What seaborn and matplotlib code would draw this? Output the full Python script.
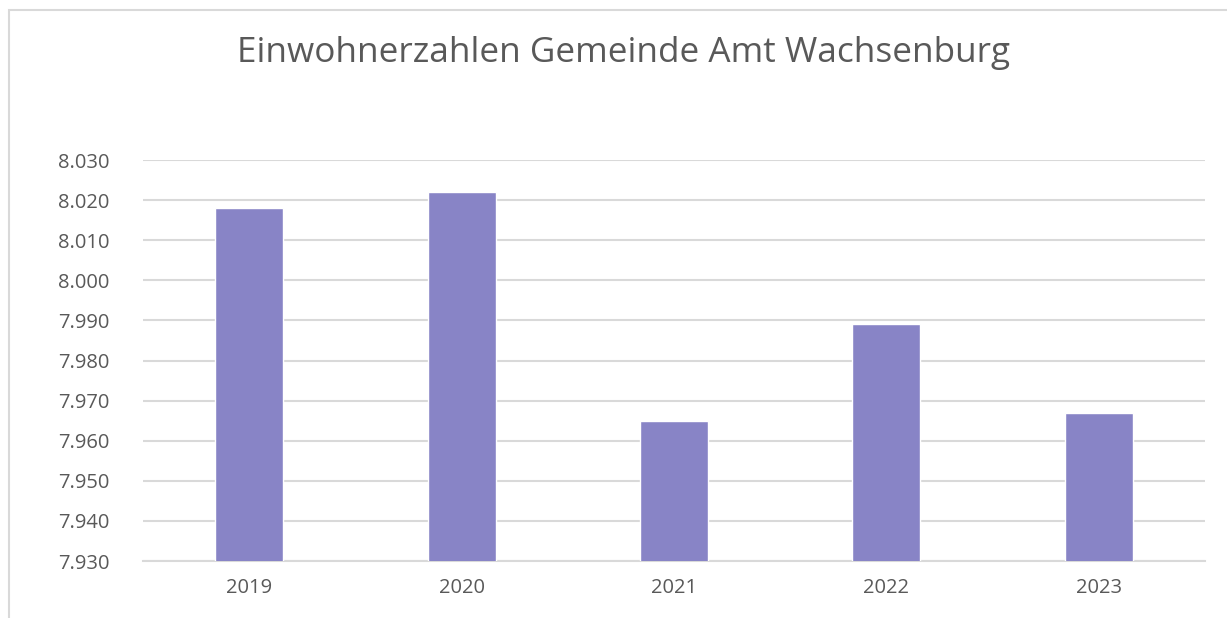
import matplotlib
matplotlib.use("Agg")
import matplotlib.pyplot as plt
import matplotlib.ticker as mticker
import seaborn as sns
import pandas as pd

years = ["2019", "2020", "2021", "2022", "2023"]
einwohner = [8018, 8022, 7965, 7989, 7967]
y_ticks = [7930, 7940, 7950, 7960, 7970, 7980, 7990, 8000, 8010, 8020, 8030]

df = pd.DataFrame({"Jahr": years, "Einwohner": einwohner})

sns.set_theme(style="white")
plt.rcParams["font.family"] = ["Open Sans", "DejaVu Sans"]

fig = plt.figure(figsize=(12.27, 6.18), dpi=100)
ax = fig.add_axes([0.1165, 0.0922, 0.8655, 0.6488])

sns.barplot(data=df, x="Jahr", y="Einwohner", color="#8884C6", saturation=1,
            width=0.32, ax=ax, zorder=3)

ax.set_ylim(7930, 8030)
ax.set_yticks(y_ticks)
ax.yaxis.set_major_formatter(mticker.FuncFormatter(lambda v, p: f"{v/1000:.3f}"))
ax.grid(axis="y", color="#D9D9D9", linewidth=1.5, zorder=0)
ax.set_axisbelow(True)
for s in ["top", "right", "left"]:
    ax.spines[s].set_visible(False)
ax.spines["bottom"].set_color("#D9D9D9")
ax.spines["bottom"].set_linewidth(1.5)
ax.set_xlabel("")
ax.set_ylabel("")
ax.tick_params(axis="both", length=0, labelsize=14.5, labelcolor="#595959")
ax.tick_params(axis="y", pad=24)
ax.tick_params(axis="x", pad=12)

fig.text(0.508, 0.915, "Einwohnerzahlen Gemeinde Amt Wachsenburg", ha="center", va="center",
         fontsize=25.3, color="#595959")

# chart frame
fig.patches.append(plt.Rectangle((9 / 1227, -0.01), 1.2, 1 - 10 / 618 + 0.01,
                                 transform=fig.transFigure, fill=False,
                                 edgecolor="#D9D9D9", linewidth=1.5))

fig.savefig("out.png", dpi=100, facecolor="white")
